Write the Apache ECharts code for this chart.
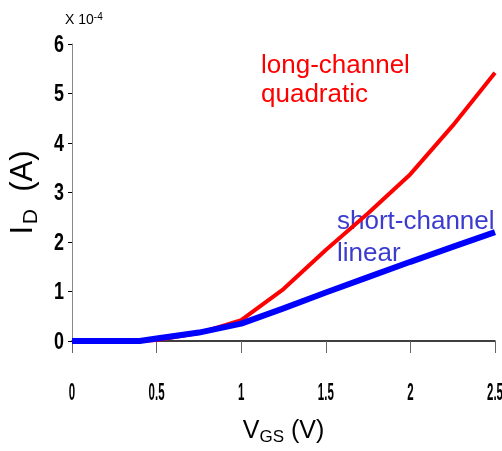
<!DOCTYPE html>
<html><head><meta charset="utf-8">
<script src="https://cdn.jsdelivr.net/npm/echarts@6/dist/echarts.min.js"></script>
<style>html,body{margin:0;padding:0;background:#fff}#c{width:502px;height:451px}</style>
</head><body><div id="c"></div>
<script>
// Gate voltage sweep (V) and drain current (x 1e-4 A)
const vgs = [0, 0.25, 0.4, 0.5, 0.75, 1.0, 1.25, 1.5, 1.75, 2.0, 2.25, 2.5];
const longChannel = [0, 0, 0, 0.02, 0.16, 0.42, 1.05, 1.84, 2.58, 3.37, 4.35, 5.42];
const shortChannel = [0, 0, 0, 0.05, 0.17, 0.35, 0.66, 0.98, 1.29, 1.6, 1.9, 2.2];

// Axis ticks and their labels
const xTickValues = [0, 0.5, 1, 1.5, 2, 2.5];
const xTickLabels = ['0', '0.5', '1', '1.5', '2', '2.5'];
const yTickValues = [0, 1, 2, 3, 4, 5, 6];
const yTickLabels = ['0', '1', '2', '3', '4', '5', '6'];

const pairs = (xs, ys) => xs.map((x, i) => [x, ys[i]]);
const SANS = 'Liberation Sans, Arial, sans-serif';

const chart = echarts.init(document.getElementById('c'), null, { renderer: 'canvas' });
chart.setOption({
  animation: false,
  backgroundColor: '#fff',
  grid: { left: 71, right: 7, top: 44, bottom: 109 },
  xAxis: {
    type: 'value', min: xTickValues[0], max: xTickValues[xTickValues.length - 1],
    interval: xTickValues[1] - xTickValues[0],
    name: '{v|V}{s|GS}{v| (V)}', nameLocation: 'middle', nameGap: 75,
    nameTextStyle: { rich: {
      v: { fontFamily: SANS, fontSize: 25, color: '#000' },
      s: { fontFamily: SANS, fontSize: 17, color: '#000', verticalAlign: 'bottom', padding: [13, 0, 0, 0] }
    } },
    axisLine: { lineStyle: { color: '#000', width: 1.5 } },
    axisTick: { show: true, inside: false, length: 12, lineStyle: { color: '#666' } },
    axisLabel: { show: false },
    splitLine: { show: false }
  },
  yAxis: {
    type: 'value', min: yTickValues[0], max: yTickValues[yTickValues.length - 1],
    interval: yTickValues[1] - yTickValues[0],
    name: '{v|I}{g| }{s|D}{v|  (A)}', nameLocation: 'middle', nameGap: 30,
    nameTextStyle: { rich: {
      v: { fontFamily: SANS, fontSize: 31, color: '#000' },
      g: { fontFamily: SANS, fontSize: 6 },
      s: { fontFamily: SANS, fontSize: 21, color: '#000', verticalAlign: 'bottom', padding: [16, 0, 0, 0] }
    } },
    axisLine: { show: true, lineStyle: { color: '#888', width: 1 } },
    axisTick: { show: true, inside: false, length: 4, lineStyle: { color: '#000' } },
    axisLabel: { show: false },
    splitLine: { show: false }
  },
  series: [
    { type: 'line', name: 'long-channel', data: pairs(vgs, longChannel), showSymbol: false,
      lineStyle: { color: '#ff0000', width: 4 }, z: 2 },
    { type: 'line', name: 'short-channel', data: pairs(vgs, shortChannel), showSymbol: false,
      lineStyle: { color: '#0000ff', width: 6 }, z: 3 }
  ]
});

// Condensed bold tick labels, placed through the axis scales
const axisY0 = chart.convertToPixel({ yAxisIndex: 0 }, yTickValues[0]);
const axisX0 = chart.convertToPixel({ xAxisIndex: 0 }, xTickValues[0]);
const tickStyle = { fontFamily: SANS, fontWeight: 'bold', fontSize: 23, fill: '#000' };
const labels = [];
xTickValues.forEach((v, i) => labels.push({
  type: 'text', x: chart.convertToPixel({ xAxisIndex: 0 }, v), y: axisY0 + 53,
  scaleX: 0.5, scaleY: 1.02,
  style: Object.assign({ text: xTickLabels[i], align: 'center', verticalAlign: 'middle' }, tickStyle)
}));
yTickValues.forEach((v, i) => labels.push({
  type: 'text', x: axisX0 - 8, y: chart.convertToPixel({ yAxisIndex: 0 }, v) + 1,
  scaleX: 0.78, scaleY: 1.05,
  style: Object.assign({ text: yTickLabels[i], align: 'right', verticalAlign: 'middle' }, tickStyle)
}));

chart.setOption({
  graphic: labels.concat([
    { type: 'text', left: 65, top: 12, style: { text: '{a|X 10}{b|-4}', rich: {
      a: { fontFamily: SANS, fontSize: 14, fill: '#000' },
      b: { fontFamily: SANS, fontSize: 10, fill: '#000', verticalAlign: 'top', padding: [0, 0, 6, 0] }
    } } },
    { type: 'text', left: 261, top: 51, style: { text: 'long-channel\nquadratic', fill: '#ff0000',
      fontFamily: SANS, fontSize: 26, lineHeight: 29 } },
    { type: 'text', left: 337, top: 206, style: { text: 'short-channel\nlinear', fill: '#3b3bcf',
      fontFamily: SANS, fontSize: 26, lineHeight: 32 } }
  ])
});
</script></body></html>
